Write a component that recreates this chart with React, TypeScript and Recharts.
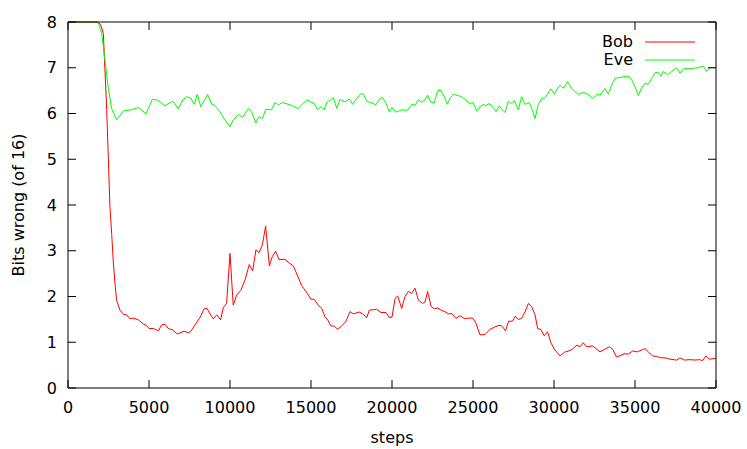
import React from 'react';
import { LineChart, Line, XAxis, YAxis, Legend } from 'recharts';

const FONT = '"DejaVu Sans", Verdana, sans-serif';

const X_TICKS = [0, 5000, 10000, 15000, 20000, 25000, 30000, 35000, 40000];
const Y_TICKS = [0, 1, 2, 3, 4, 5, 6, 7, 8];

// Bob: bits wrong
const bobSteps = [
  0, 1000, 1800, 2000, 2100, 2180, 2390, 2590, 2700, 2800, 2900, 3000, 3210, 3420, 3620, 3830, 4030,
  4340, 4650, 4860, 5000, 5270, 5580, 5780, 5990, 6190, 6460, 6750, 7160, 7430, 7570, 7840, 8150,
  8400, 8580, 8770, 8970, 9180, 9420, 9590, 9790, 10000, 10200, 10410, 10660, 10930, 11190, 11400,
  11600, 11790, 12000, 12200, 12430, 12610, 12820, 13020, 13400, 13700, 13910, 14150, 14420, 14770,
  15000, 15190, 15450, 15660, 15860, 16030, 16220, 16440, 16630, 16830, 17160, 17410, 17610, 17980,
  18190, 18440, 18600, 19050, 19320, 19630, 19830, 20000, 20190, 20350, 20600, 20800, 21010, 21210,
  21420, 21630, 21890, 22040, 22200, 22410, 22610, 22820, 23030, 23270, 23480, 23680, 23950, 24200,
  24460, 24980, 25190, 25430, 25740, 26050, 26320, 26600, 26770, 27010, 27200, 27430, 27620, 27800,
  28000, 28210, 28420, 28620, 28830, 28990, 29190, 29400, 29600, 29810, 30020, 30370, 30640, 30990,
  31190, 31400, 31600, 31810, 32020, 32390, 32840, 33150, 33420, 33620, 33830, 34070, 34320, 34590,
  34860, 35140, 35410, 35620, 35820, 36090, 36340, 36590, 36850, 37160, 37570, 37780, 38040, 38400,
  38700, 38970, 39180, 39380, 39590, 40000,
];
const bobBits = [
  8, 8, 8, 7.95, 7.85, 7.75, 6.08, 3.95, 3.35, 2.73, 2.29, 1.92, 1.7, 1.61, 1.6, 1.51, 1.53,
  1.49, 1.4, 1.36, 1.3, 1.3, 1.25, 1.38, 1.39, 1.3, 1.27, 1.18, 1.24, 1.21, 1.23, 1.38, 1.54,
  1.73, 1.74, 1.62, 1.51, 1.6, 1.49, 1.76, 1.85, 2.94, 1.81, 2.03, 2.13, 2.36, 2.7, 2.56,
  3.02, 2.96, 3.13, 3.54, 2.67, 2.87, 2.99, 2.81, 2.81, 2.72, 2.67, 2.47, 2.24, 2.07,
  1.94, 1.94, 1.81, 1.74, 1.56, 1.49, 1.36, 1.35, 1.29, 1.33, 1.46, 1.67, 1.62, 1.66,
  1.62, 1.54, 1.7, 1.72, 1.65, 1.65, 1.54, 1.55, 1.96, 2.01, 1.74, 2.0, 2.11, 2.07,
  2.18, 1.92, 1.85, 1.88, 2.11, 1.79, 1.73, 1.75, 1.7, 1.67, 1.62, 1.63, 1.52, 1.58,
  1.52, 1.53, 1.41, 1.16, 1.17, 1.28, 1.33, 1.37, 1.36, 1.25, 1.46, 1.46, 1.57, 1.5,
  1.52, 1.66, 1.85, 1.78, 1.6, 1.3, 1.28, 1.14, 1.23, 0.99, 0.85, 0.7, 0.78, 0.82,
  0.86, 0.94, 0.9, 0.99, 0.9, 0.92, 0.79, 0.85, 0.9, 0.85, 0.69, 0.7, 0.75, 0.74,
  0.81, 0.79, 0.83, 0.86, 0.79, 0.7, 0.69, 0.66, 0.66, 0.63, 0.61, 0.66, 0.61, 0.62,
  0.61, 0.62, 0.6, 0.7, 0.63, 0.65,
];

// Eve: bits wrong
const eveSteps = [
  0, 1000, 1770, 1900, 2080, 2280, 2490, 2690, 3000, 3420, 3930, 4340, 4540, 4810, 5200, 5560,
  5990, 6400, 6500, 6810, 7080, 7370, 7570, 7800, 7980, 8190, 8400, 8620, 8870, 9000, 9380, 9690,
  10000, 10200, 10510, 10780, 11130, 11330, 11600, 11790, 12000, 12200, 12560, 12780, 12990, 13250,
  13700, 13910, 14220, 14490, 14770, 14980, 15190, 15410, 15620, 15800, 16010, 16210, 16380, 16590,
  16790, 17100, 17370, 17570, 17820, 18070, 18230, 18440, 18750, 19010, 19260, 19420, 19630, 19840,
  20000, 20230, 20600, 20950, 21210, 21420, 21630, 21830, 22040, 22200, 22410, 22610, 22800, 22960,
  23130, 23420, 23580, 23790, 24090, 24300, 24540, 24810, 25010, 25230, 25430, 25640, 25800, 26010,
  26250, 26420, 26620, 26820, 26980, 27180, 27350, 27550, 27800, 28000, 28210, 28470, 28620, 28830,
  29030, 29240, 29440, 29810, 30020, 30160, 30370, 30570, 30840, 31040, 31190, 31500, 31810, 32110,
  32390, 32670, 32840, 33150, 33350, 33520, 33770, 34070, 34590, 34800, 35000, 35200, 35410, 35620,
  35820, 35980, 36230, 36440, 36600, 36750, 37020, 37250, 37570, 37780, 37990, 38300, 38600, 38900,
  39210, 39420, 39630, 40000,
];
const eveBits = [
  8, 8, 8, 7.95, 7.75, 7.17, 6.55, 6.11, 5.86, 6.06, 6.08, 6.13, 6.08, 5.99, 6.31, 6.29,
  6.17, 6.26, 6.26, 6.1, 6.3, 6.37, 6.34, 6.2, 6.42, 6.15, 6.28, 6.42, 6.2, 6.2, 6.04, 5.86,
  5.71, 5.86, 5.98, 5.92, 6.11, 6.04, 5.79, 5.93, 5.89, 6.09, 6.08, 6.24, 6.19, 6.24,
  6.19, 6.16, 6.11, 6.22, 6.3, 6.25, 6.23, 6.08, 6.15, 6.08, 6.26, 6.3, 6.35, 6.11,
  6.31, 6.25, 6.32, 6.2, 6.33, 6.43, 6.43, 6.27, 6.23, 6.19, 6.33, 6.35, 6.22, 6.03,
  6.13, 6.03, 6.08, 6.07, 6.2, 6.18, 6.3, 6.25, 6.3, 6.4, 6.24, 6.24, 6.48, 6.53,
  6.44, 6.2, 6.33, 6.42, 6.39, 6.37, 6.3, 6.22, 6.24, 6.05, 6.15, 6.2, 6.17, 6.22,
  6.13, 6.04, 6.17, 6.08, 6.02, 6.27, 6.22, 6.28, 6.08, 6.37, 6.2, 6.24, 6.11, 5.89,
  6.2, 6.33, 6.34, 6.54, 6.42, 6.52, 6.62, 6.55, 6.7, 6.57, 6.51, 6.42, 6.46, 6.42,
  6.33, 6.42, 6.4, 6.55, 6.42, 6.59, 6.77, 6.79, 6.82, 6.73, 6.59, 6.39, 6.56, 6.66,
  6.64, 6.73, 6.89, 6.9, 6.81, 6.92, 6.85, 6.92, 7.0, 6.88, 6.98, 6.98, 6.99, 7.0,
  7.04, 6.92, 7.0, 7.0,
];

const toPoints = (steps: number[], bits: number[]) =>
  steps.map((step, i) => ({ step, bits: bits[i] }));

const bobData = toPoints(bobSteps, bobBits);
const eveData = toPoints(eveSteps, eveBits);

const tickFont = { fontSize: 16, fill: '#000', fontFamily: FONT };

// mirrored border axes keep their tick marks but carry no labels
const NoLabel = () => <g />;

const KeyBox = ({ payload }: any) => (
  <div style={{ fontFamily: FONT, fontSize: 16, color: '#000' }}>
    {(payload || [])
      .filter((entry: any) => entry.type !== 'none')
      .map((entry: any) => (
        <div key={entry.value} style={{ display: 'flex', alignItems: 'center', height: 18 }}>
          <span style={{ width: 40, textAlign: 'right', lineHeight: '18px' }}>{entry.value}</span>
          <svg width={62} height={18} style={{ display: 'block' }}>
            <line x1={12} x2={62} y1={9} y2={9} stroke={entry.color} strokeWidth={1} />
          </svg>
        </div>
      ))}
  </div>
);

export default function App() {
  return (
    <div style={{ width: 747, height: 449, fontFamily: FONT, background: '#fff' }}>
      <style>{'body{margin:0}'}</style>
      <LineChart width={747} height={449} margin={{ top: 21, right: 30, bottom: 0, left: 8 }}>
        <XAxis
          dataKey="step"
          type="number"
          domain={[0, 40000]}
          ticks={X_TICKS}
          height={61}
          tickSize={-8}
          tickMargin={22}
          tick={tickFont}
          axisLine={{ stroke: '#000' }}
          tickLine={{ stroke: '#000' }}
          label={{ value: 'steps', position: 'insideBottom', offset: 6, fill: '#000', fontSize: 16, fontFamily: FONT }}
        />
        <XAxis
          xAxisId="top"
          orientation="top"
          dataKey="step"
          type="number"
          domain={[0, 40000]}
          ticks={X_TICKS}
          height={1}
          tickSize={-8}
          tick={NoLabel}
          axisLine={{ stroke: '#000' }}
          tickLine={{ stroke: '#000' }}
        />
        <YAxis
          type="number"
          domain={[0, 8]}
          ticks={Y_TICKS}
          width={60}
          tickSize={-8}
          tickMargin={19}
          tick={tickFont}
          axisLine={{ stroke: '#000' }}
          tickLine={{ stroke: '#000' }}
          label={{
            value: 'Bits wrong (of 16)',
            angle: -90,
            position: 'insideLeft',
            offset: 10,
            fill: '#000',
            fontSize: 16,
            fontFamily: FONT,
            style: { textAnchor: 'middle' },
          }}
        />
        <YAxis
          yAxisId="right"
          orientation="right"
          type="number"
          domain={[0, 8]}
          ticks={Y_TICKS}
          width={1}
          tickSize={-8}
          tick={NoLabel}
          axisLine={{ stroke: '#000' }}
          tickLine={{ stroke: '#000' }}
        />
        <Legend
          layout="vertical"
          align="center"
          verticalAlign="middle"
          content={<KeyBox />}
          wrapperStyle={{ left: 593, top: 33, width: 110, height: 36 }}
        />
        {/* invisible series so the mirrored top/right border axes get drawn */}
        <Line
          xAxisId="top"
          yAxisId="right"
          data={bobData}
          dataKey="bits"
          stroke="none"
          dot={false}
          activeDot={false}
          legendType="none"
          isAnimationActive={false}
        />
        <Line
          name="Bob"
          data={bobData}
          dataKey="bits"
          type="linear"
          stroke="#ff0000"
          strokeWidth={1}
          dot={false}
          isAnimationActive={false}
        />
        <Line
          name="Eve"
          data={eveData}
          dataKey="bits"
          type="linear"
          stroke="#00ff00"
          strokeWidth={1}
          dot={false}
          isAnimationActive={false}
        />
      </LineChart>
    </div>
  );
}
